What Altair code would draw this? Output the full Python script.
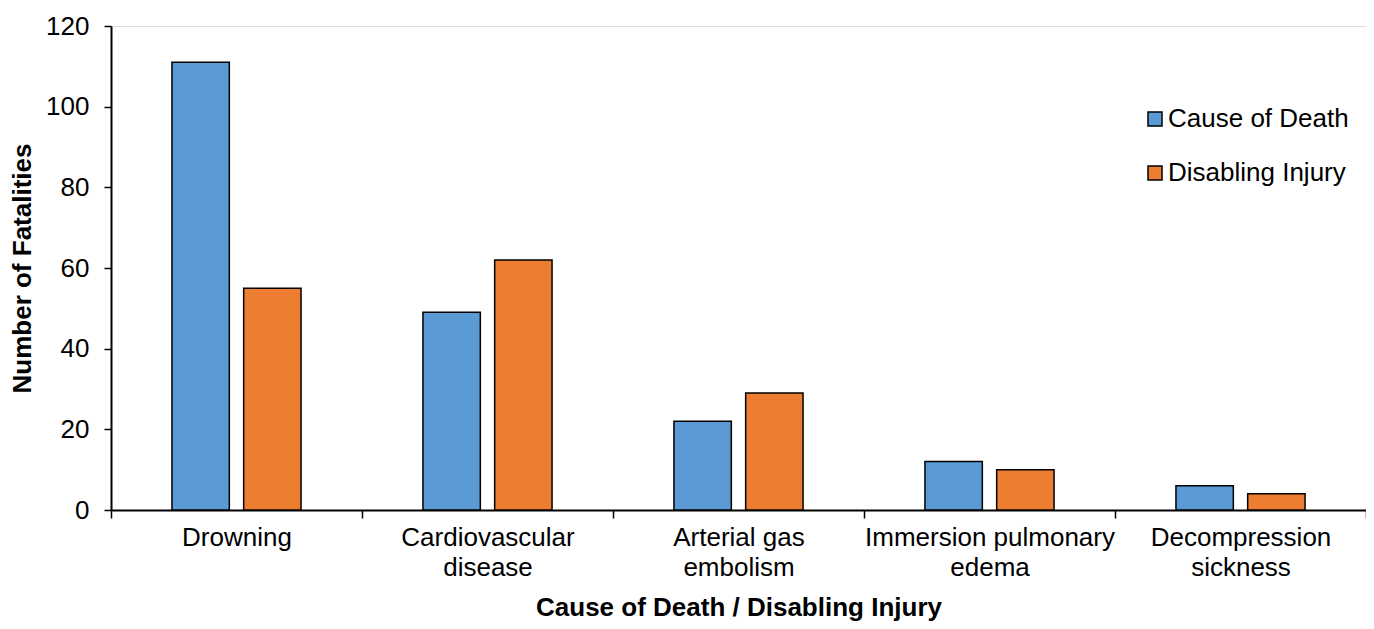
import altair as alt
import pandas as pd

categories = ["Drowning", "Cardiovascular\ndisease", "Arterial gas\nembolism",
              "Immersion pulmonary\nedema", "Decompression\nsickness"]
series = ["Cause of Death", "Disabling Injury"]
cause_of_death = [111, 49, 22, 12, 6]
disabling_injury = [55, 62, 29, 10, 4]
y_ticks = [0, 20, 40, 60, 80, 100, 120]
colors = ["#5B9BD5", "#ED7D31"]

rows = []
for c, a, b in zip(categories, cause_of_death, disabling_injury):
    rows.append({"category": c, "series": series[0], "value": a})
    rows.append({"category": c, "series": series[1], "value": b})
df = pd.DataFrame(rows)

W, H = 1255, 484
FONT = "Liberation Sans"
FS = 26

chart = alt.Chart(df).mark_bar(stroke="#000000", strokeWidth=1.5).encode(
    x=alt.X("category:N", sort=categories,
            scale=alt.Scale(paddingInner=0, paddingOuter=0),
            axis=alt.Axis(title="Cause of Death / Disabling Injury",
                          labelExpr="split(datum.label, '\\n')",
                          labelAngle=0, labelFontSize=FS, labelLineHeight=30,
                          labelPadding=6, labelColor="#000000", labelLimit=0,
                          tickBand="extent", tickSize=8, tickWidth=1.5,
                          tickColor="#000000", domainColor="#000000",
                          domainWidth=2, titleFontSize=FS, titleFontWeight="bold",
                          titleColor="#000000", titleY=97, titleBaseline="middle",
                          labelFont=FONT, titleFont=FONT)),
    xOffset=alt.XOffset("series:N", sort=series,
                        scale=alt.Scale(paddingInner=0.2, paddingOuter=0.85)),
    y=alt.Y("value:Q", scale=alt.Scale(domain=[0, 120], nice=False),
            axis=alt.Axis(title="Number of Fatalities", values=y_ticks, grid=False,
                          labelFontSize=FS, labelPadding=15, labelColor="#000000",
                          tickSize=7, tickWidth=1.5, tickColor="#000000",
                          domainColor="#000000", domainWidth=2,
                          titleFontSize=FS, titleFontWeight="bold", titleColor="#000000",
                          titleX=-89, titleY=H / 2, titleAlign="center",
                          titleBaseline="middle", labelFont=FONT, titleFont=FONT)),
    color=alt.Color("series:N", sort=series,
                    scale=alt.Scale(domain=series, range=colors),
                    legend=alt.Legend(title=None, orient="none", legendX=1031, legendY=80,
                                      labelFontSize=FS, labelFont=FONT, labelColor="#000000",
                                      labelLimit=0,
                                      symbolType="square", symbolSize=196,
                                      symbolStrokeColor="#000000", symbolStrokeWidth=1.5,
                                      rowPadding=28, labelOffset=0)),
).properties(
    width=W, height=H,
    autosize=alt.AutoSizeParams(type="none"),
    padding={"left": 103, "top": 18, "right": 0, "bottom": 111},
).configure_view(stroke=None).configure(font=FONT, background="white")

chart.save("out.html", embed_options={"renderer": "svg", "actions": False})
